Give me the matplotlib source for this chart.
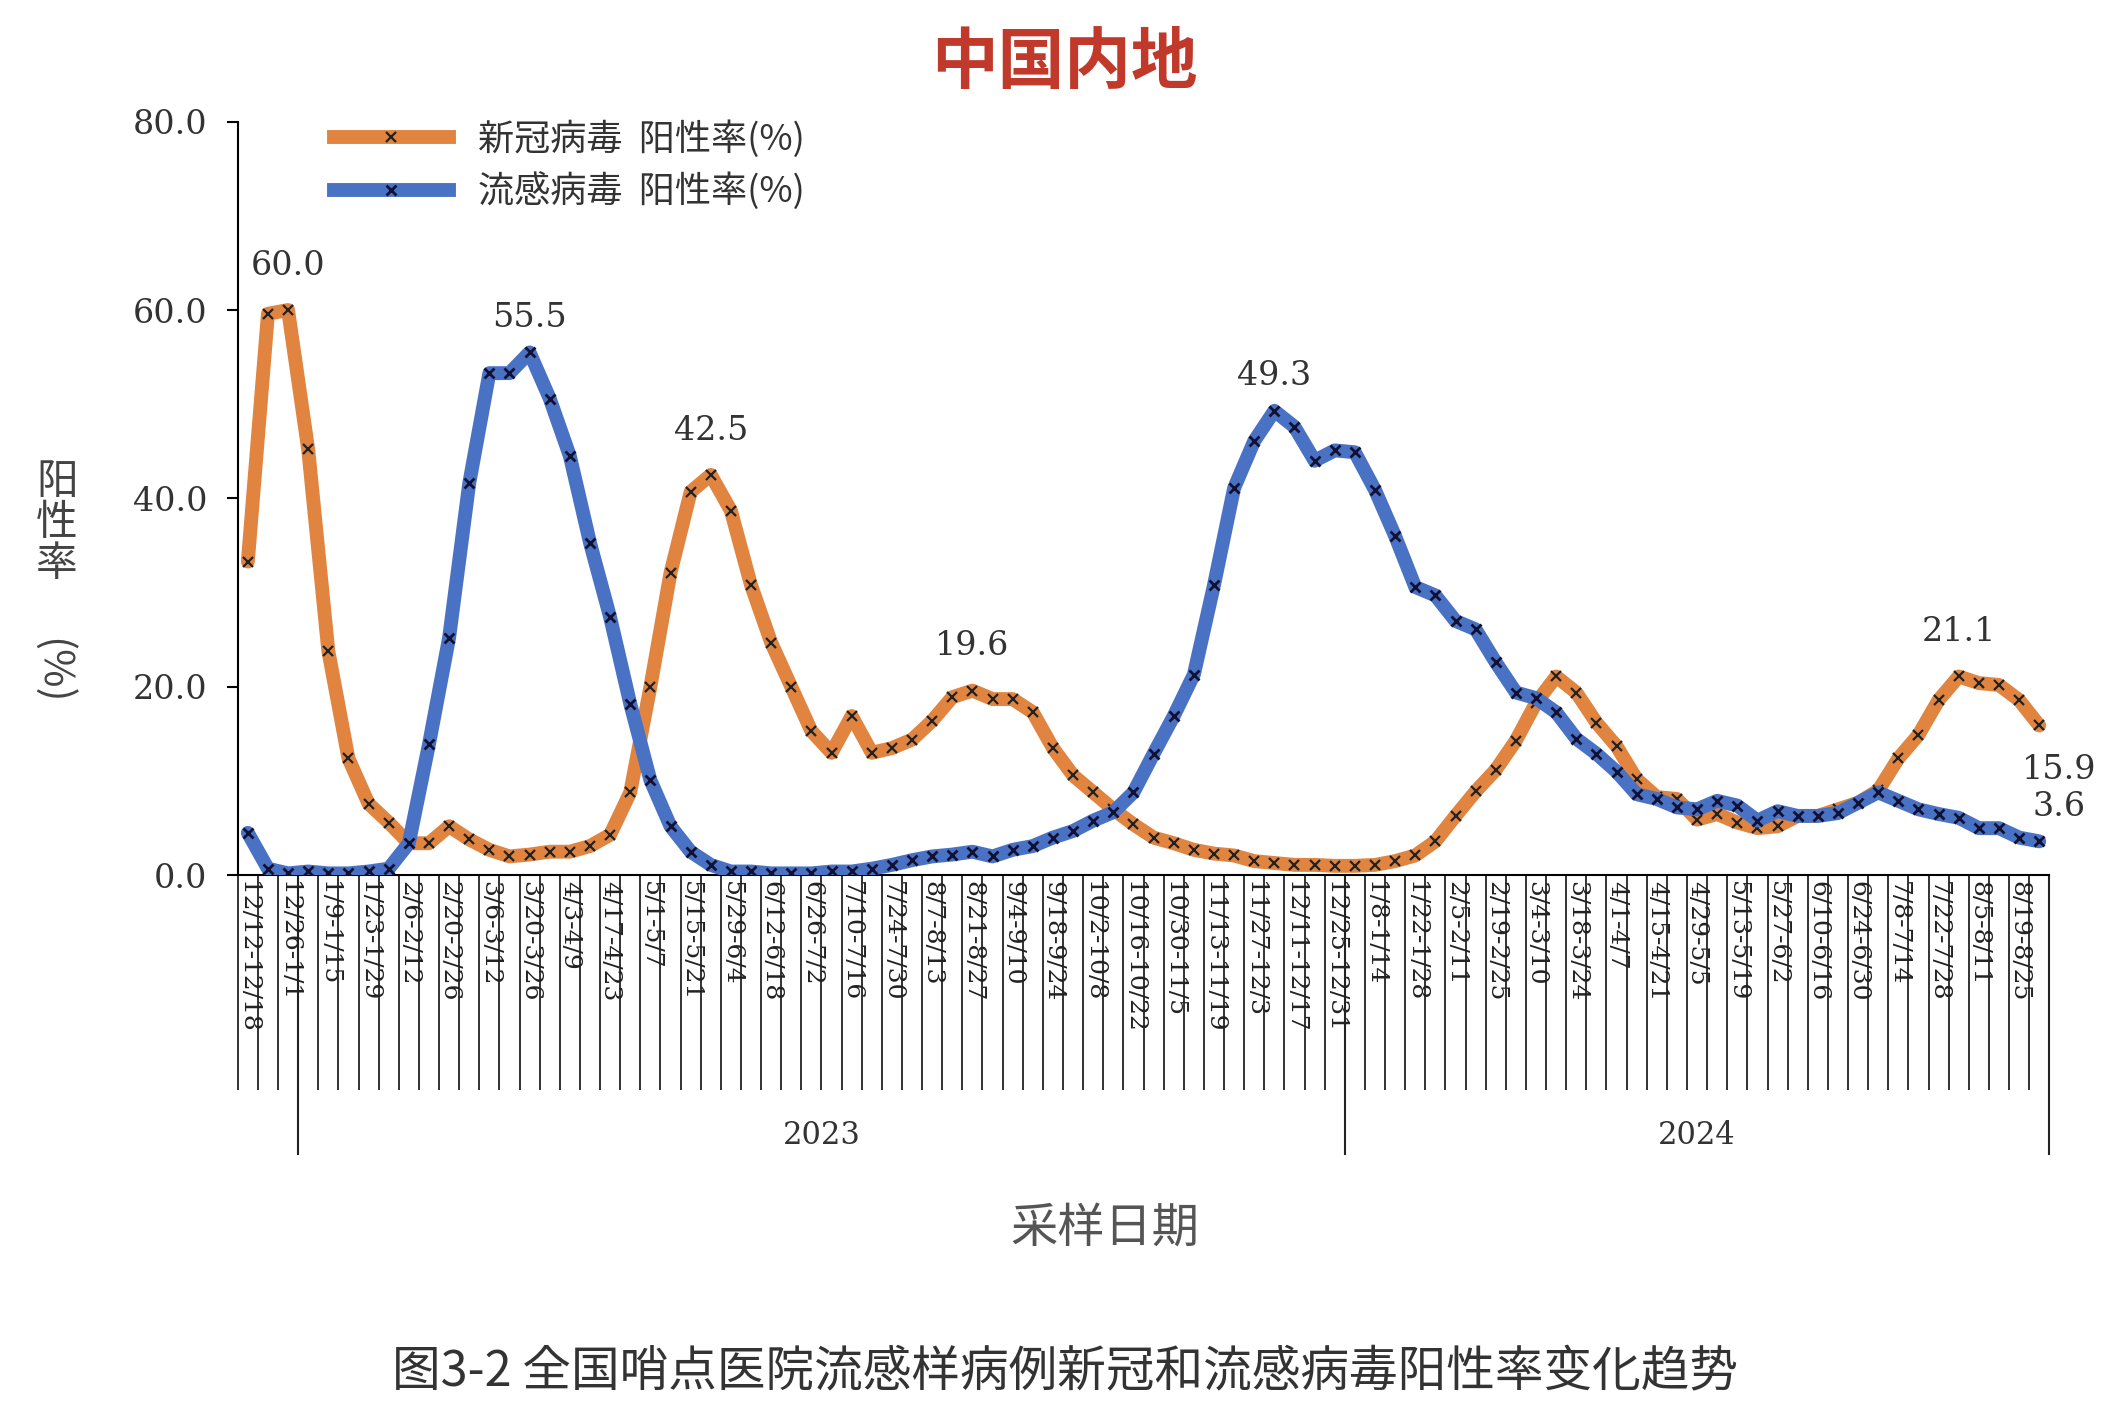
import matplotlib.pyplot as plt
from matplotlib.lines import Line2D
from matplotlib import font_manager

names = {f.name for f in font_manager.fontManager.ttflist}
cjk = [n for n in ['Noto Sans CJK SC', 'Noto Sans CJK JP', 'Noto Sans CJK TC', 'Noto Sans CJK KR']
       if n in names]
plt.rcParams['font.family'] = cjk + ['DejaVu Sans']

# weekly positivity rates (%)
covid = [33.3, 59.6, 60.0, 45.2, 23.8, 12.4, 7.6, 5.6, 3.4, 3.4,
         5.2, 3.8, 2.7, 2.0, 2.2, 2.5, 2.5, 3.1, 4.3, 8.8,
         20.0, 32.1, 40.7, 42.5, 38.7, 30.8, 24.7, 20.0, 15.3, 13.0,
         16.9, 13.0, 13.5, 14.4, 16.4, 18.9, 19.6, 18.7, 18.7, 17.3,
         13.5, 10.6, 8.8, 7.0, 5.4, 4.0, 3.4, 2.7, 2.3, 2.1,
         1.5, 1.3, 1.1, 1.1, 1.0, 1.0, 1.1, 1.5, 2.1, 3.6,
         6.3, 8.9, 11.2, 14.3, 18.3, 21.1, 19.4, 16.2, 13.7, 10.2,
         8.3, 8.1, 5.9, 6.5, 5.6, 5.0, 5.2, 6.3, 6.3, 7.0,
         7.7, 9.0, 12.4, 14.9, 18.6, 21.1, 20.4, 20.2, 18.6, 15.9]
flu = [4.5, 0.7, 0.2, 0.4, 0.2, 0.2, 0.4, 0.7, 3.4, 13.9,
       25.2, 41.6, 53.3, 53.3, 55.5, 50.6, 44.5, 35.3, 27.4, 18.2,
       10.1, 5.2, 2.5, 1.1, 0.4, 0.4, 0.2, 0.2, 0.2, 0.4,
       0.4, 0.7, 1.1, 1.6, 2.0, 2.2, 2.5, 2.0, 2.7, 3.1,
       4.0, 4.7, 5.8, 6.7, 8.8, 12.9, 16.9, 21.3, 30.8, 41.1,
       46.1, 49.3, 47.6, 44.0, 45.1, 44.9, 40.9, 36.0, 30.6, 29.7,
       27.0, 26.1, 22.6, 19.4, 18.8, 17.3, 14.5, 12.9, 11.0, 8.6,
       8.1, 7.2, 7.0, 7.9, 7.4, 5.8, 6.8, 6.3, 6.3, 6.6,
       7.7, 8.8, 7.9, 7.0, 6.5, 6.1, 5.0, 5.0, 4.0, 3.6]
week_labels = ['12/12-12/18', '12/26-1/1', '1/9-1/15', '1/23-1/29', '2/6-2/12', '2/20-2/26',
               '3/6-3/12', '3/20-3/26', '4/3-4/9', '4/17-4/23', '5/1-5/7', '5/15-5/21',
               '5/29-6/4', '6/12-6/18', '6/26-7/2', '7/10-7/16', '7/24-7/30', '8/7-8/13',
               '8/21-8/27', '9/4-9/10', '9/18-9/24', '10/2-10/8', '10/16-10/22', '10/30-11/5',
               '11/13-11/19', '11/27-12/3', '12/11-12/17', '12/25-12/31', '1/8-1/14', '1/22-1/28',
               '2/5-2/11', '2/19-2/25', '3/4-3/10', '3/18-3/24', '4/1-4/7', '4/15-4/21',
               '4/29-5/5', '5/13-5/19', '5/27-6/2', '6/10-6/16', '6/24-6/30', '7/8-7/14',
               '7/22-7/28', '8/5-8/11', '8/19-8/25']
years = ['2023', '2024']
year_bounds = [2.5, 54.5, 89.5]
peaks_covid = [2, 23, 36, 85, 89]
peaks_flu = [14, 51, 89]

x = list(range(len(covid)))
orange = '#E0843F'
blue = '#4A72C4'
num_font = 'DejaVu Serif'

fig = plt.figure(figsize=(21.04, 14.14), dpi=100)
ax = fig.add_axes([0.113, 0.381, 0.861, 0.533])

ax.plot(x, covid, color=orange, lw=10, solid_capstyle='round', solid_joinstyle='round', zorder=2)
ax.plot(x, covid, ls='none', marker='x', ms=7, mew=1.6, color='#222222', zorder=3)
ax.plot(x, flu, color=blue, lw=10, solid_capstyle='round', solid_joinstyle='round', zorder=4)
ax.plot(x, flu, ls='none', marker='x', ms=7, mew=2, color='#111133', zorder=5)

last = len(covid) - 1
for i in peaks_covid:
    if i == last:
        ax.text(i + 1.0, covid[i] - 3.0, f'{covid[i]:.1f}', ha='center', va='top',
                fontsize=24, family=num_font, color='#333333')
    else:
        ax.text(i, covid[i] + 3.0, f'{covid[i]:.1f}', ha='center', va='bottom',
                fontsize=24, family=num_font, color='#333333')
for i in peaks_flu:
    dx = 1.0 if i == last else 0
    ax.text(i + dx, flu[i] + 2.0, f'{flu[i]:.1f}', ha='center', va='bottom',
            fontsize=24, family=num_font, color='#333333')

ax.set_xlim(-0.5, len(covid) - 0.5)
ax.set_ylim(0, 80)
ax.set_yticks([0, 20, 40, 60, 80])
ax.set_yticklabels([f'{v:.1f}' for v in [0, 20, 40, 60, 80]], family=num_font,
                   fontsize=24, color='#333333')
ax.tick_params(axis='y', length=8, width=1.5, pad=14)
for s in ['top', 'right']:
    ax.spines[s].set_visible(False)
ax.spines['left'].set_linewidth(1.5)
ax.spines['bottom'].set_linewidth(1.5)

# category ticks at every boundary, long like an excel multi-level axis
ax.set_xticks([i - 0.5 for i in range(len(covid) + 1)])
ax.set_xticklabels([])
ax.tick_params(axis='x', length=155, width=1.3, color='#222222')
for k, lab in enumerate(week_labels):
    ax.text(2 * k, -0.6, lab, rotation=-90, ha='center', va='top', fontsize=18,
            family=num_font, color='#222222')

# year group separators and labels
trans = ax.get_xaxis_transform()
for b in year_bounds:
    ax.plot([b, b], [0, -0.37], transform=trans, color='#222222', lw=1.5, clip_on=False)
for k, yr in enumerate(years):
    ax.text((year_bounds[k] + year_bounds[k + 1]) / 2, -0.345, yr, transform=trans,
            ha='center', va='center', fontsize=22, family=num_font, color='#333333')

fig.text(0.525, 0.131, '采样日期', ha='center', va='center', fontsize=34, color='#555555')
fig.text(0.027, 0.63, '阳\n性\n率', ha='center', va='center', fontsize=30,
         color='#444444', linespacing=1.0)
fig.text(0.025, 0.525, '(%)', ha='center', va='center', fontsize=30, rotation=-90,
         color='#444444')
fig.text(0.506, 0.955, '中国内地', ha='center', va='center', fontsize=48,
         fontweight='bold', color='#C0392B')
fig.text(0.506, 0.029, '图3-2 全国哨点医院流感样病例新冠和流感病毒阳性率变化趋势',
         ha='center', va='center', fontsize=35, color='#333333')

handles = [Line2D([], [], color=orange, lw=10, marker='x', ms=7, mec='#222222', mew=1.6),
           Line2D([], [], color=blue, lw=10, marker='x', ms=7, mec='#111133', mew=2)]
ax.legend(handles, ['新冠病毒  阳性率(%)', '流感病毒  阳性率(%)'], loc='upper left',
          bbox_to_anchor=(0.035, 1.045), frameon=False, fontsize=26, handlelength=3.2,
          labelspacing=0.4, labelcolor='#333333')

fig.savefig('out.png', dpi=100)
